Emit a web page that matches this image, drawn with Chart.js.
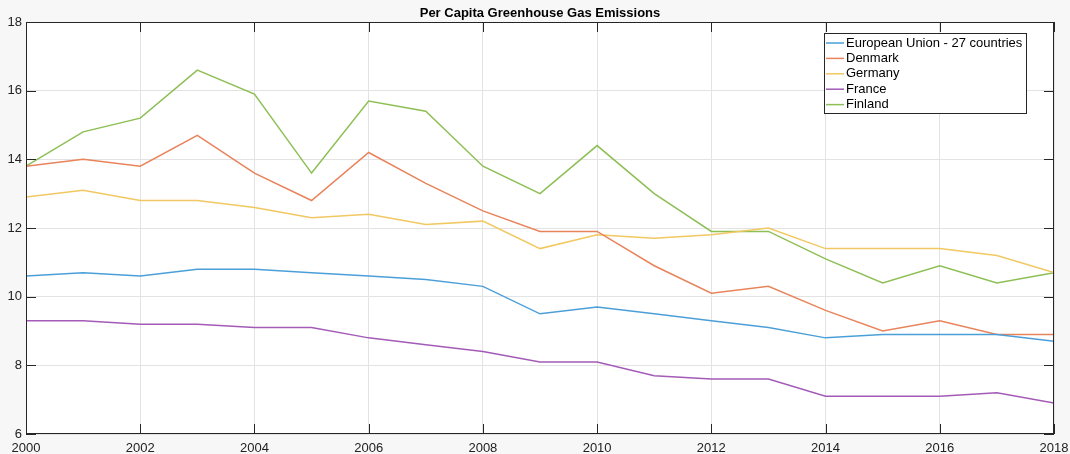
<!DOCTYPE html>
<html>
<head>
<meta charset="utf-8">
<script src="https://cdn.jsdelivr.net/npm/chart.js@4/dist/chart.umd.min.js"></script>
<style>
  html, body { margin:0; padding:0; background:#f7f7f7; }
  #wrap { width:1070px; height:454px; }
</style>
</head>
<body>
<div id="wrap"><canvas id="grafico" width="1070" height="454"></canvas></div>
<script>
// años y series (toneladas CO2 eq. por habitante)
const years = [2000,2001,2002,2003,2004,2005,2006,2007,2008,2009,2010,2011,2012,2013,2014,2015,2016,2017,2018];
const eu27    = [10.6,10.7,10.6,10.8,10.8,10.7,10.6,10.5,10.3,9.5,9.7,9.5,9.3,9.1,8.8,8.9,8.9,8.9,8.7];
const denmark = [13.8,14.0,13.8,14.7,13.6,12.8,14.2,13.3,12.5,11.9,11.9,10.9,10.1,10.3,9.6,9.0,9.3,8.9,8.9];
const germany = [12.9,13.1,12.8,12.8,12.6,12.3,12.4,12.1,12.2,11.4,11.8,11.7,11.8,12.0,11.4,11.4,11.4,11.2,10.7];
const france  = [9.3,9.3,9.2,9.2,9.1,9.1,8.8,8.6,8.4,8.1,8.1,7.7,7.6,7.6,7.1,7.1,7.1,7.2,6.9];
const finland = [13.8,14.8,15.2,16.6,15.9,13.6,15.7,15.4,13.8,13.0,14.4,13.0,11.9,11.9,11.1,10.4,10.9,10.4,10.7];

const FONT = '"Liberation Sans", Arial, Helvetica, sans-serif';

const serie = (label, data, color) => ({
  label, data: years.map((y,i)=>({x:y, y:data[i]})),
  borderColor: color, backgroundColor: color,
  borderWidth: 1.5, pointRadius: 0, tension: 0, fill: false
});

// estilo matlab: fondo blanco, caja, marcas hacia adentro, leyenda dentro del área
const matlabPlugin = {
  id: 'matlab',
  beforeDraw(chart) {
    const {ctx, chartArea:a} = chart;
    ctx.save();
    ctx.fillStyle = '#ffffff';
    ctx.fillRect(a.left, a.top, a.right-a.left, a.bottom-a.top);
    ctx.restore();
  },
  afterDraw(chart) {
    const {ctx, chartArea:a, scales} = chart;
    ctx.save();
    // título
    ctx.fillStyle = '#000';
    ctx.font = 'bold 13px ' + FONT;
    ctx.textAlign = 'center'; ctx.textBaseline = 'middle';
    ctx.fillText('Per Capita Greenhouse Gas Emissions', (a.left+a.right)/2, 13);
    // caja
    ctx.strokeStyle = '#262626'; ctx.lineWidth = 1;
    ctx.strokeRect(a.left+0.5, a.top+0.5, a.right-a.left-1, a.bottom-a.top-1);
    // marcas
    ctx.beginPath();
    scales.x.ticks.forEach(t => {
      const px = Math.round(scales.x.getPixelForValue(t.value))+0.5;
      ctx.moveTo(px, a.bottom); ctx.lineTo(px, a.bottom-10);
      ctx.moveTo(px, a.top); ctx.lineTo(px, a.top+10);
    });
    scales.y.ticks.forEach(t => {
      const py = Math.round(scales.y.getPixelForValue(t.value))+0.5;
      ctx.moveTo(a.left, py); ctx.lineTo(a.left+10, py);
      ctx.moveTo(a.right, py); ctx.lineTo(a.right-10, py);
    });
    ctx.stroke();
    // leyenda
    const lx = 824, ly = 33, lw = 202, lh = 80;
    ctx.fillStyle = '#fff';
    ctx.fillRect(lx, ly, lw, lh);
    ctx.strokeStyle = '#262626';
    ctx.strokeRect(lx+0.5, ly+0.5, lw, lh);
    ctx.font = '13px ' + FONT;
    ctx.textAlign = 'left'; ctx.textBaseline = 'middle';
    chart.data.datasets.forEach((d,i) => {
      const y = ly + 10 + i*15.4;
      ctx.strokeStyle = d.borderColor; ctx.lineWidth = 1.5;
      ctx.beginPath(); ctx.moveTo(lx+2, y); ctx.lineTo(lx+20, y); ctx.stroke();
      ctx.fillStyle = '#000';
      ctx.fillText(d.label, lx+22, y);
    });
    ctx.restore();
  }
};

new Chart(document.getElementById('grafico').getContext('2d'), {
  type: 'line',
  data: { datasets: [
    serie('European Union - 27 countries', eu27, '#4b9fd9'),
    serie('Denmark', denmark, '#e8835b'),
    serie('Germany', germany, '#f1c862'),
    serie('France', france, '#a35bb7'),
    serie('Finland', finland, '#8dbf55')
  ]},
  options: {
    responsive: false, animation: false,
    layout: { padding: { top: 22, right: 16, left: 0, bottom: 0 } },
    plugins: { legend: { display:false }, title: { display:false }, tooltip: { enabled:false } },
    scales: {
      x: {
        type: 'linear', min: 2000, max: 2018,
        afterFit: s => { s.height = 20; s.paddingLeft = 0; s.paddingRight = 0; },
        ticks: { stepSize: 2, padding: 7, color: '#222', font: { family: FONT, size: 13 }, callback: v => String(v), maxRotation: 0 },
        grid: { color: '#e3e3e3', drawTicks: false },
        border: { display: false }
      },
      y: {
        min: 6, max: 18,
        afterFit: s => { s.width = 26; s.paddingTop = 0; s.paddingBottom = 0; },
        ticks: { stepSize: 2, padding: 4, color: '#222', font: { family: FONT, size: 13 } },
        grid: { color: '#e3e3e3', drawTicks: false },
        border: { display: false }
      }
    }
  },
  plugins: [matlabPlugin]
});
</script>
</body>
</html>
